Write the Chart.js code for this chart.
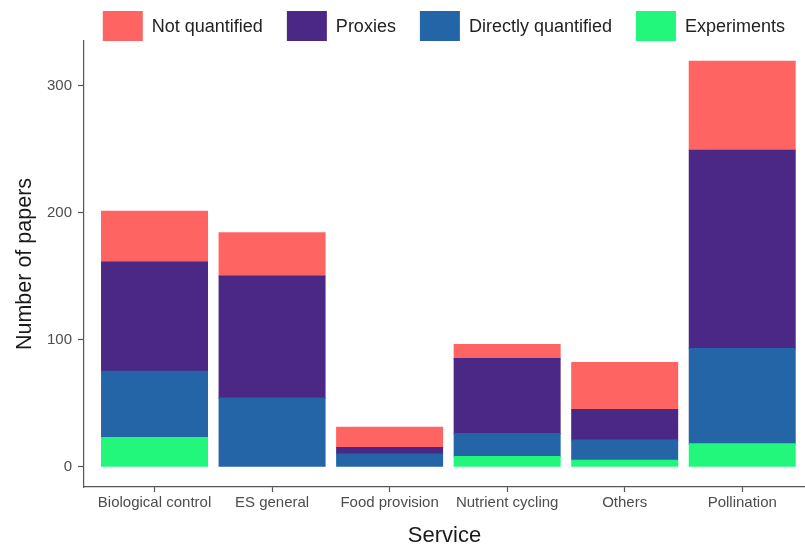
<!DOCTYPE html>
<html><head><meta charset="utf-8">
<script src="https://cdn.jsdelivr.net/npm/chart.js@4"></script>
<style>html,body{margin:0;padding:0;background:#fff;overflow:hidden}canvas{display:block}</style>
</head><body>
<canvas id="c" width="805" height="549"></canvas>
<script>
const categories = ['Biological control', 'ES general', 'Food provision', 'Nutrient cycling', 'Others', 'Pollination'];
const notQuantified = [40, 34, 16, 11, 37, 70];
const proxies = [86, 96, 5, 59, 24, 156];
const directlyQuantified = [52, 54, 10, 18, 16, 75];
const experiments = [23, 0, 0, 8, 5, 18];
const yTickValues = [0, 100, 200, 300];

const toPoints = arr => categories.map((c, i) => ({ x: i + 1, y: arr[i] }));

Chart.defaults.font.family = "'Liberation Sans', Arial, sans-serif";

new Chart(document.getElementById('c'), {
  type: 'bar',
  data: {
    datasets: [
      { label: 'Experiments', data: toPoints(experiments), backgroundColor: '#22f77c' },
      { label: 'Directly quantified', data: toPoints(directlyQuantified), backgroundColor: '#2465a8' },
      { label: 'Proxies', data: toPoints(proxies), backgroundColor: '#4c2886' },
      { label: 'Not quantified', data: toPoints(notQuantified), backgroundColor: '#fe6462' }
    ]
  },
  options: {
    responsive: false,
    animation: false,
    devicePixelRatio: 1,
    layout: { padding: { top: -13, right: -4, left: 0, bottom: 0 } },
    datasets: {
      bar: {
        barPercentage: 0.9,
        categoryPercentage: 1.0,
        borderWidth: 0,
        inflateAmount: ctx => (ctx.raw && ctx.raw.y === 0) ? 0 : 0.6
      }
    },
    plugins: {
      tooltip: { enabled: false },
      legend: {
        position: 'top',
        align: 'end',
        reverse: true,
        maxHeight: 54,
        labels: {
          boxWidth: 40,
          boxHeight: 33,
          padding: 24,
          color: '#222',
          font: { size: 18 }
        }
      }
    },
    scales: {
      x: {
        type: 'linear',
        stacked: true,
        offset: false,
        min: 0.4,
        max: 6.534,
        afterBuildTicks: s => { s.ticks = categories.map((c, i) => ({ value: i + 1 })); },
        afterFit: s => { s.height = 62; },
        ticks: {
          autoSkip: false,
          maxRotation: 0,
          padding: 2,
          color: '#4d4d4d',
          font: { size: 15 },
          callback: v => categories[v - 1] ?? ''
        },
        grid: { display: true, offset: false, drawOnChartArea: false, drawTicks: true, tickLength: 5, tickColor: '#555', tickWidth: 1.2 },
        border: { display: true, color: '#555', width: 1.2 },
        title: { display: true, text: 'Service', color: '#1a1a1a', font: { size: 22 }, padding: { top: 0, bottom: 0 } }
      },
      y: {
        stacked: true,
        min: -15.95,
        max: 334.95,
        afterBuildTicks: s => { s.ticks = yTickValues.map(v => ({ value: v })); },
        afterFit: s => { s.width = 84; },
        ticks: { padding: 6, color: '#4d4d4d', font: { size: 15 } },
        grid: { display: true, drawOnChartArea: false, drawTicks: true, tickLength: 6, tickColor: '#555', tickWidth: 1.2 },
        border: { display: true, color: '#555', width: 1.2 },
        title: { display: true, text: 'Number of papers', color: '#1a1a1a', font: { size: 21.5 }, padding: { top: 12, bottom: 0 } }
      }
    }
  }
});
</script>
</body></html>
